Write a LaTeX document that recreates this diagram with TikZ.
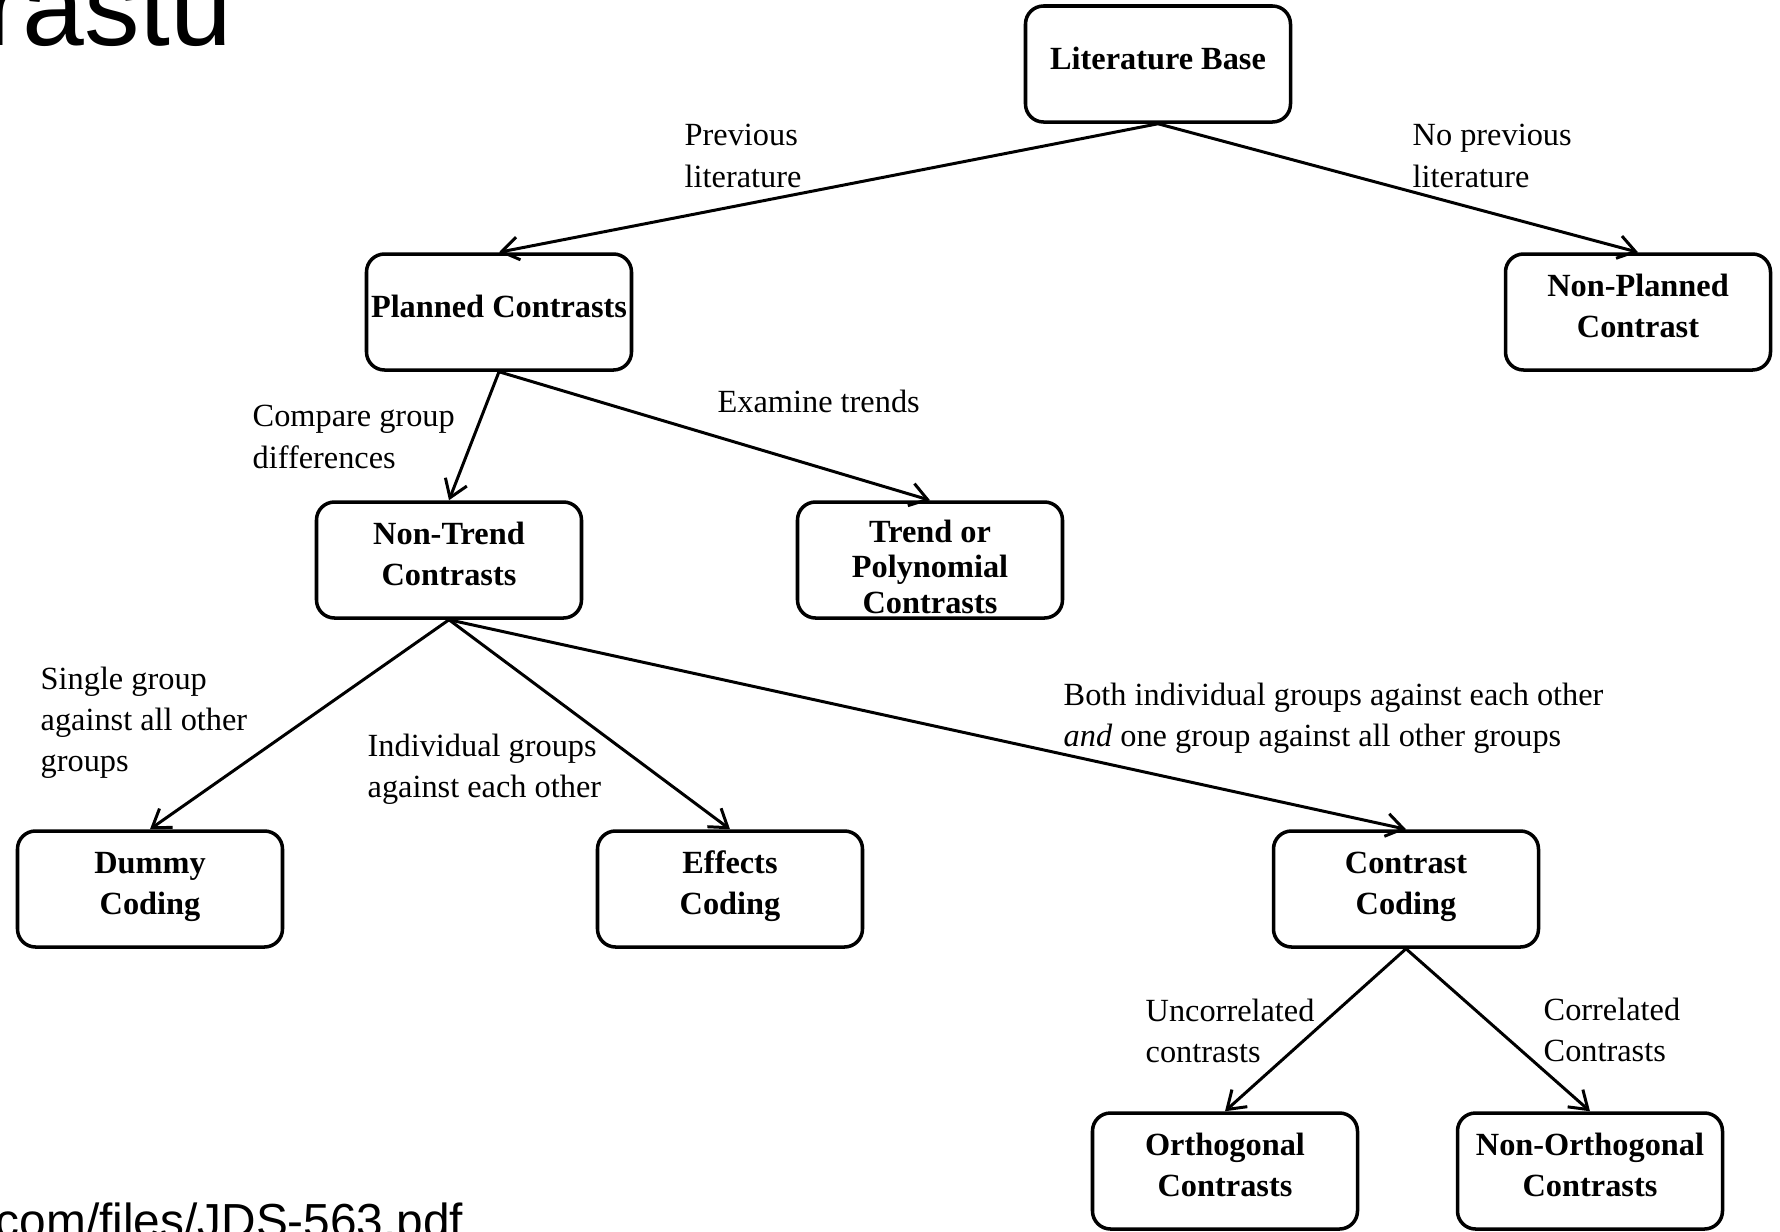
\documentclass[tikz,border=0pt]{standalone}
\usepackage{fontspec}
\setmainfont{Liberation Serif}
\newfontfamily\slidefont{Liberation Sans}
\usetikzlibrary{arrows.meta}

\begin{document}
\begin{tikzpicture}[
    decision/.style={draw, line width=1pt, rounded corners=0.18cm,
      minimum width=2.65cm, minimum height=1.16cm, inner sep=1pt,
      text depth=3.4pt, align=center,
      font=\fontsize{9.2}{11.7}\selectfont\bfseries},
    edgetext/.style={anchor=west, inner sep=0pt, align=left,
      font=\fontsize{9.2}{11.7}\selectfont},
    branch/.style={-{Straight Barb[length=1.7mm,width=2.3mm]}, line width=0.85pt}
  ]
  \useasboundingbox (0,0) rectangle (17.8,-12.32);
  \clip (0,0) rectangle (17.8,-12.32);

  % restos do slide
  \node[anchor=base east, inner sep=0pt, font=\slidefont\fontsize{31.6}{36}\selectfont]
    (slidetitle) at (2.33,-0.45) {rastu};
  \node[anchor=base east, inner sep=0pt, font=\slidefont\fontsize{13.6}{16}\selectfont]
    (slidelink) at (4.64,-12.37) {com/files/JDS-563.pdf};

  % caixas
  \node[decision] (litbase) at (11.58,-0.64) {Literature Base};
  \node[decision] (planned) at (4.99,-3.12) {Planned Contrasts};
  \node[decision] (nonplanned) at (16.38,-3.12) {Non-Planned\\Contrast};
  \node[decision] (nontrend) at (4.49,-5.60) {Non-Trend\\Contrasts};
  \node[decision, text height=30.6pt, text depth=0pt,
    font=\fontsize{9.2}{10.2}\selectfont\bfseries]
    (trend) at (9.30,-5.60) {Trend or\\Polynomial\\Contrasts};
  \node[decision] (dummy) at (1.50,-8.89) {Dummy\\Coding};
  \node[decision] (effects) at (7.30,-8.89) {Effects\\Coding};
  \node[decision] (contrastcod) at (14.06,-8.89) {Contrast\\Coding};
  \node[decision] (orthog) at (12.25,-11.71) {Orthogonal\\Contrasts};
  \node[decision] (nonorthog) at (15.90,-11.71) {Non-Orthogonal\\Contrasts};

  % textos dos ramos
  \node[edgetext] (prevlit) at (6.84,-1.56) {Previous\\literature};
  \node[edgetext] (noprevlit) at (14.12,-1.56) {No previous\\literature};
  \node[edgetext] (comparetxt) at (2.52,-4.37) {Compare group\\differences};
  \node[edgetext] (examinetxt) at (7.17,-4.01) {Examine trends};
  \node[edgetext] (singletxt) at (0.40,-7.23) {Single group\\against all other\\groups};
  \node[edgetext] (indivtxt) at (3.67,-7.69) {Individual groups\\against each other};
  \node[edgetext] (bothtxt) at (10.63,-7.18)
    {Both individual groups against each other\\\textit{and} one group against all other groups};
  \node[edgetext] (uncorrtxt) at (11.45,-10.31) {Uncorrelated\\contrasts};
  \node[edgetext] (corrtxt) at (15.43,-10.30) {Correlated\\Contrasts};

  % setas
  \draw[branch] (litbase.south) -- (planned.north);
  \draw[branch] (litbase.south) -- (nonplanned.north);
  \draw[branch] (planned.south) -- (nontrend.north);
  \draw[branch] (planned.south) -- (trend.north);
  \draw[branch] (nontrend.south) -- (dummy.north);
  \draw[branch] (nontrend.south) -- (effects.north);
  \draw[branch] (nontrend.south) -- (contrastcod.north);
  \draw[branch] (contrastcod.south) -- (orthog.north);
  \draw[branch] (contrastcod.south) -- (nonorthog.north);
\end{tikzpicture}
\end{document}
